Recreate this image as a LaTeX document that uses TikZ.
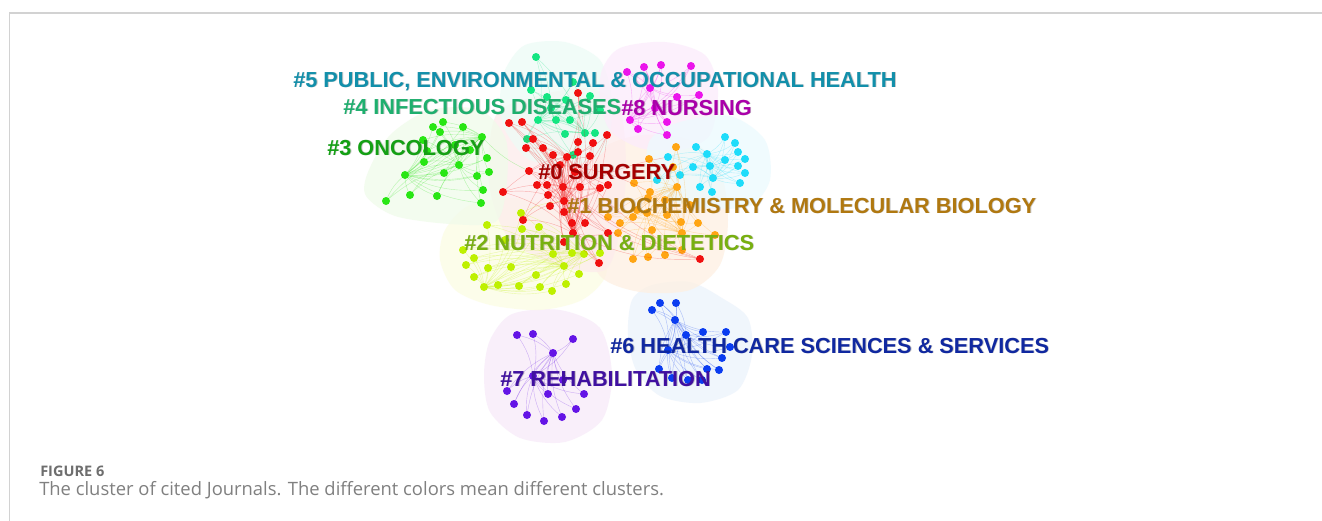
\documentclass[tikz,border=0pt]{standalone}
\usepackage{fontspec}
\newfontfamily\lblfont{Liberation Sans}
\newfontfamily\capfont{Open Sans}
\usetikzlibrary{calc}

% cluster colours
\definecolor{cSurg}{RGB}{240,16,16}
\definecolor{cBio}{RGB}{255,165,20}
\definecolor{cNut}{RGB}{190,240,0}
\definecolor{cOnc}{RGB}{40,230,20}
\definecolor{cInf}{RGB}{20,230,130}
\definecolor{cPub}{RGB}{30,220,250}
\definecolor{cHcs}{RGB}{10,60,240}
\definecolor{cReh}{RGB}{100,20,230}
\definecolor{cNur}{RGB}{235,20,235}
% label colours
\definecolor{tSurg}{RGB}{165,0,0}
\definecolor{tBio}{RGB}{176,120,16}
\definecolor{tNut}{RGB}{120,176,16}
\definecolor{tOnc}{RGB}{20,160,20}
\definecolor{tInf}{RGB}{30,175,110}
\definecolor{tPub}{RGB}{18,143,170}
\definecolor{tHcs}{RGB}{16,40,160}
\definecolor{tReh}{RGB}{64,16,160}
\definecolor{tNur}{RGB}{170,0,170}
% hull tints
\definecolor{hSurg}{RGB}{253,236,236}
\definecolor{hBio}{RGB}{254,240,226}
\definecolor{hNut}{RGB}{252,253,228}
\definecolor{hOnc}{RGB}{240,251,234}
\definecolor{hInf}{RGB}{237,252,246}
\definecolor{hPub}{RGB}{236,250,254}
\definecolor{hHcs}{RGB}{236,243,252}
\definecolor{hReh}{RGB}{247,234,249}
\definecolor{hNur}{RGB}{252,236,252}
\definecolor{framegray}{RGB}{210,210,210}
\definecolor{capgray}{RGB}{128,128,128}
\definecolor{figgray}{RGB}{110,110,110}

\tikzset{
  dot/.style={circle, fill=#1, inner sep=0pt, minimum size=6pt},
  edge/.style={draw=#1, line width=0.3pt, opacity=0.3},
  hull/.style={fill=#1, fill opacity=0.75, draw=none},
  lbl/.style={anchor=base west, inner sep=0pt, text=#1,
    font=\lblfont\bfseries\fontsize{16.3}{18}\selectfont},
  lblshadow/.style={anchor=base west, inner sep=0pt, text=black, opacity=0.22,
    font=\lblfont\bfseries\fontsize{16.3}{18}\selectfont},
}

% #1 name, #2 colour, #3 hub indices, #4 dot positions x/y
\newcommand\netcluster[4]{%
  \foreach \px/\py [count=\i] in {#4}{\coordinate (#1-\i) at (\px,\py); \xdef\lastidx{\i}}
  \foreach \i in {1,...,\lastidx}{%
    \foreach \j in {#3}{%
      \ifnum\i=\j\relax\else
        \draw[edge=#2] (#1-\i) to[bend left=14] (#1-\j);
      \fi}}
  \foreach \i in {1,...,\lastidx}{\node[dot=#2] (#1-d\i) at (#1-\i) {};}
}

% cluster label with a soft drop shadow
\newcommand\clabel[5]{% #1 name, #2 colour, #3 x, #4 y, #5 text
  \node[lblshadow] at (#3+0.9,#4+0.9) {#5};
  \node[lbl=#2] (#1) at (#3,#4) {#5};
}

\begin{document}
\begin{tikzpicture}[x=0.75pt, y=-0.75pt]
\useasboundingbox (0,0) rectangle (1322,521);
\fill[white] (0,0) rectangle (1322,521);

% panel frame
\draw[framegray, line width=1.1pt] (9,13) -- (1322,13);
\draw[framegray, line width=0.8pt] (9.5,13) -- (9.5,521);

% cluster hulls
\fill[hull=hReh] plot[smooth cycle] coordinates {(490,340) (512,314) (560,310) (600,328) (612,375) (602,420) (565,442) (520,438) (490,412) (484,375)};
\fill[hull=hHcs] plot[smooth cycle] coordinates {(632,300) (652,285) (690,282) (722,298) (748,318) (752,355) (738,390) (700,403) (660,396) (636,370) (628,335)};
\fill[hull=hNut] plot[smooth cycle] coordinates {(445,230) (470,205) (520,198) (562,212) (600,238) (606,275) (582,300) (540,310) (490,305) (455,290) (440,260)};
\fill[hull=hBio] plot[smooth cycle] coordinates {(600,150) (640,135) (690,140) (720,170) (728,220) (720,265) (690,290) (640,292) (600,276) (585,230) (590,185)};
\fill[hull=hSurg] plot[smooth cycle] coordinates {(500,110) (540,95) (590,88) (620,110) (626,170) (620,230) (605,270) (560,266) (510,240) (490,190) (490,140)};
\fill[hull=hOnc] plot[smooth cycle] coordinates {(368,172) (390,135) (430,110) (480,110) (506,140) (506,190) (495,222) (450,224) (395,216) (366,196)};
\fill[hull=hInf] plot[smooth cycle] coordinates {(505,70) (525,45) (565,42) (600,60) (612,100) (606,148) (576,165) (530,160) (505,130) (500,100)};
\fill[hull=hNur] plot[smooth cycle] coordinates {(602,70) (620,48) (665,42) (705,55) (718,90) (710,135) (680,150) (640,148) (610,130) (600,100)};
\fill[hull=hPub] plot[smooth cycle] coordinates {(650,140) (680,122) (730,116) (765,140) (770,180) (750,206) (710,208) (670,200) (648,175)};

% the clusters: links and journals
\netcluster{reh}{cReh}{4,6}{517/335,533/334,573/339,553/353,563/380,533/376,507/391,514/404,548/394,584/394,576/409,527/415,544/421,562/417}
\netcluster{hcs}{cHcs}{4,5,16}{652/310,660/303,676/303,675/320,686/335,703/332,726/332,730/347,722/358,719/370,707/369,659/369,672/378,688/380,702/380,668/350}
\netcluster{nut}{cNut}{11,18,22}{521/213,487/225,522/229,539/227,463/250,474/258,466/265,488/268,511/267,474/277,484/287,498/285,519/286,536/275,540/287,552/291,566/284,564/266,579/274,553/254,572/253,584/254,600/253,505/240}
\netcluster{onc}{cOnc}{6,10,14}{443/122,433/127,440/132,463/127,423/140,482/137,427/151,487/158,424/162,459/165,444/173,477/176,489/172,405/175,410/195,437/196,386/201,483/190,481/203,455/145,470/150}
\netcluster{inf}{cInf}{7,11,15}{536/57,531/90,547/97,566/100,573/82,590/96,538/120,556/120,570/120,565/134,585/133,595/133,527/139,573/155,551/108,600/110}
\netcluster{nur}{cNur}{5,8,12}{627/72,644/67,661/65,691/66,650/88,677/97,699/95,630/120,638/129,667/122,667/135,655/108}
\netcluster{pub}{cPub}{4,8,11}{725/137,735/143,696/147,707/154,738/152,745/159,693/167,710/166,738/166,745/173,713/178,700/187,740/183,712/192,668/157,657/180,725/160,680/175}
\netcluster{bio}{cBio}{6,13,18}{676/147,649/159,673/167,634/183,650/192,677/187,648/198,637/210,608/217,620/223,618/233,633/217,647/213,667/215,681/222,698/223,652/230,682/233,715/235,633/259,648/257,665/255,682/250,665/200,690/205}
\netcluster{surg}{cSurg}{8,17,25,28}{509/123,522/122,578/93,533/139,526/148,543/148,553/155,567/157,578/142,593/143,607/135,578/152,590/156,529/171,537/185,547/185,563/187,580/187,600/188,608/185,503/192,548/195,550/206,564/212,564/201,572/223,585/223,573/233,608/233,523/220,564/242,599/263,700/259,560/165,575/172}

% a few links between clusters
\draw[edge=cSurg] (surg-d34) to[bend left=10] (bio-d5);
\draw[edge=cSurg] (surg-d17) to[bend right=10] (surg-d33);
\draw[edge=cSurg] (surg-d18) to[bend left=8] (pub-d15);
\draw[edge=cNut] (nut-d1) to[bend left=10] (surg-d25);
\draw[edge=cOnc] (onc-d6) to[bend right=10] (surg-d14);

% cluster labels
\clabel{l5}{tPub}{293}{87}{\#5 PUBLIC, ENVIRONMENTAL \& OCCUPATIONAL HEALTH}
\clabel{l4}{tInf}{343}{114}{\#4 INFECTIOUS DISEASES}
\clabel{l8}{tNur}{621}{115}{\#8 NURSING}
\clabel{l3}{tOnc}{327}{155}{\#3 ONCOLOGY}
\clabel{l0}{tSurg}{538}{179}{\#0 SURGERY}
\clabel{l1}{tBio}{567}{213}{\#1 BIOCHEMISTRY \& MOLECULAR BIOLOGY}
\clabel{l2}{tNut}{464}{250}{\#2 NUTRITION \& DIETETICS}
\clabel{l6}{tHcs}{610}{353}{\#6 HEALTH CARE SCIENCES \& SERVICES}
\clabel{l7}{tReh}{500}{386}{\#7 REHABILITATION}

% caption
\node[anchor=base west, inner sep=0pt, text=figgray,
  font=\capfont\bfseries\fontsize{10.9}{13}\selectfont] (figno) at (40,476) {FIGURE 6};
\node[anchor=base west, inner sep=0pt, text=capgray,
  font=\capfont\fontsize{13.8}{16}\selectfont] (cap) at (39,495)
  {The cluster of cited Journals. The different colors mean different clusters.};
\end{tikzpicture}
\end{document}
